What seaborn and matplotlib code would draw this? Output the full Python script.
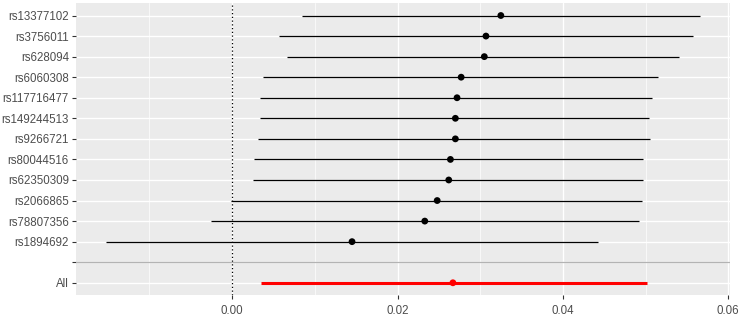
import numpy as np
import pandas as pd
import matplotlib
matplotlib.use('Agg')
import matplotlib.pyplot as plt
import seaborn as sns

# SNP estimates with confidence limits
snps = ['rs13377102', 'rs3756011', 'rs628094', 'rs6060308', 'rs117716477',
        'rs149244513', 'rs9266721', 'rs80044516', 'rs62350309', 'rs2066865',
        'rs78807356', 'rs1894692']
est = [0.0325, 0.0307, 0.0305, 0.0277, 0.0272, 0.0270, 0.0270, 0.0264,
       0.0262, 0.0248, 0.0233, 0.0145]
lower = [0.0084, 0.0057, 0.0066, 0.0037, 0.0034, 0.0034, 0.0031, 0.0027,
         0.0025, -0.0001, -0.0025, -0.0152]
upper = [0.0566, 0.0558, 0.0541, 0.0515, 0.0508, 0.0504, 0.0505, 0.0497,
         0.0497, 0.0496, 0.0492, 0.0442]

all_est = 0.0267
all_lower = 0.0035
all_upper = 0.0502

labels = snps + ['', 'All']

sns.set_theme(style='darkgrid', rc={
    'axes.facecolor': '#EBEBEB',
    'grid.color': 'white',
    'axes.edgecolor': '#EBEBEB',
})
plt.rcParams['font.family'] = ['Liberation Sans', 'DejaVu Sans']

df = pd.DataFrame({'snp': snps, 'est': est, 'lower': lower, 'upper': upper})
df['pos'] = np.arange(len(snps))
all_pos = len(snps) + 1

fig = plt.figure(figsize=(7.44, 3.18), dpi=100)
ax = fig.add_axes([0.102, 0.072, 0.879, 0.918])

# minor gridlines
for xm in [-0.01, 0.01, 0.03, 0.05]:
    ax.axvline(xm, color='white', lw=0.5, zorder=0.5)

ax.hlines(df['pos'], df['lower'], df['upper'], color='black', lw=0.9, zorder=2)
sns.scatterplot(data=df, x='est', y='pos', color='black', s=24,
                edgecolor='none', ax=ax, zorder=3)

ax.hlines([all_pos], [all_lower], [all_upper], color='red', lw=2.2, zorder=2)
ax.scatter([all_est], [all_pos], color='red', s=24, edgecolor='none', zorder=3)

ax.axhline(len(snps), color='#B3B3B3', lw=0.9, zorder=1)
ax.axvline(0, color='black', lw=0.9, ls=(0, (1, 2)), zorder=1.5)

ax.set_xlim(-0.0189, 0.0602)
ax.set_ylim(len(labels) - 0.4, -0.6)
ax.set_yticks(range(len(labels)))
ax.set_yticklabels(labels)
ax.set_xticks([0.0, 0.02, 0.04, 0.06])
ax.set_xticklabels(['0.00', '0.02', '0.04', '0.06'])
ax.grid(True, which='major', color='white', lw=1.0)
ax.set_axisbelow(True)
ax.set_xlabel('')
ax.set_ylabel('')
ax.tick_params(axis='both', which='major', length=3, width=0.8, color='#333333',
               labelsize=8.3, labelcolor='#4D4D4D', pad=2,
               left=True, bottom=True)
ax.tick_params(axis='x', pad=4)
for s in ax.spines.values():
    s.set_visible(False)

fig.savefig('out.png', dpi=100, facecolor='white')
